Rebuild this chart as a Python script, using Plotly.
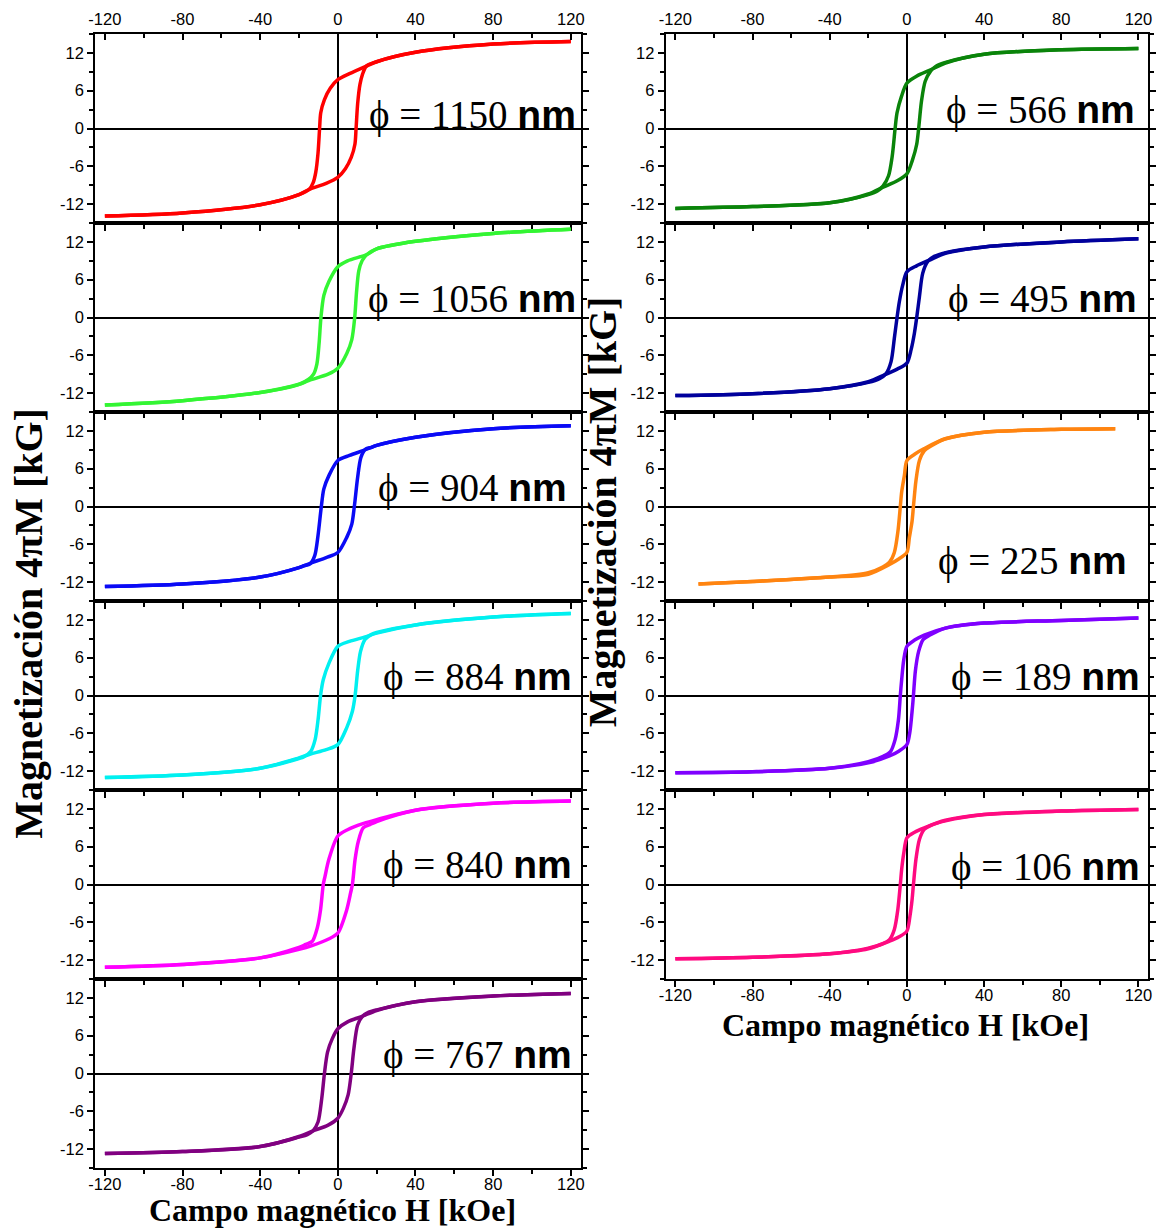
import plotly.graph_objects as go

# ---------------------------------------------------------------------------
# Hysteresis loops 4πM(H) of nanowire arrays of different diameter.
# Each loop: descending branch (+H -> -H) and ascending branch (-H -> +H).
# H in kOe, 4πM in kG.
# ---------------------------------------------------------------------------

diameters = ["1150", "1056", "904", "884", "840", "767", "566", "495", "225", "189", "106"]
colors = ["#ff0000", "#33f533", "#0a0af5", "#00f0f0", "#ff00ff", "#800080",
          "#0a840a", "#00009c", "#ff8410", "#7f00ff", "#ff0a80"]

# 1150 nm
h_1150_down = [120, 80, 40, 20, 14.7, 6, 0, -3.9, -6.9, -8.8, -9.4, -10.2, -11.4, -12.7, -14.7, -20, -40, -80, -120]
m_1150_down = [13.8, 13.4, 12.1, 10.6, 9.9, 8.7, 7.75, 6.4, 4.6, 2.5, 0, -3.9, -7.0, -8.6, -9.65, -10.5, -12.1, -13.4, -13.9]
h_1150_up = [-120, -80, -40, -20, -14.7, -6, 0, 3.9, 6.9, 8.8, 9.4, 10.2, 11.4, 12.7, 14.7, 20, 40, 80, 120]
m_1150_up = [-13.9, -13.4, -12.1, -10.5, -9.65, -8.7, -7.75, -6.4, -4.6, -2.5, 0, 3.9, 7.0, 8.6, 9.9, 10.6, 12.1, 13.4, 13.8]

# 1056 nm
h_1056_down = [120, 80, 40, 20, 15, 5, 0, -4.6, -7.2, -8.7, -9.6, -10.8, -12.5, -15, -20, -40, -80, -120]
m_1056_down = [14.0, 13.35, 12.1, 10.9, 10.0, 9.0, 8.05, 5.7, 3.5, 0, -3.9, -7.4, -9.0, -9.8, -10.6, -11.9, -13.2, -13.9]
h_1056_up = [-120, -80, -40, -20, -15, -5, 0, 4.6, 7.2, 8.7, 9.6, 10.8, 12.5, 15, 20, 40, 80, 120]
m_1056_up = [-13.9, -13.2, -11.9, -10.6, -10.0, -9.0, -8.05, -5.7, -3.5, 0, 3.9, 7.4, 9.0, 10.0, 10.9, 12.1, 13.35, 14.0]

# 904 nm
h_904_down = [120, 80, 40, 20, 13.3, 6, 0, -4.6, -7.2, -8.5, -10.2, -11.9, -14.3, -17.4, -20, -40, -80, -120]
m_904_down = [12.8, 12.35, 11.0, 9.7, 8.9, 8.1, 7.3, 4.9, 2.8, 0, -4.6, -7.8, -9.1, -9.4, -9.7, -11.2, -12.3, -12.7]
h_904_up = [-120, -80, -40, -20, -13.3, -6, 0, 4.6, 7.2, 8.5, 10.2, 11.9, 14.3, 17.4, 20, 40, 80, 120]
m_904_up = [-12.7, -12.3, -11.2, -9.7, -8.9, -8.1, -7.3, -4.9, -2.8, 0, 4.6, 7.8, 9.1, 9.4, 9.7, 11.0, 12.35, 12.8]

# 884 nm
h_884_down = [120, 80, 40, 20, 14.1, 6, 0, -4.6, -7.5, -8.9, -10.2, -11.7, -14, -17.4, -20, -40, -80, -120]
m_884_down = [13.0, 12.45, 11.2, 9.9, 9.3, 8.6, 7.8, 5.1, 2.5, 0, -3.9, -7.0, -8.9, -9.7, -10.0, -11.55, -12.6, -13.0]
h_884_up = [-120, -80, -40, -20, -14.1, -6, 0, 4.6, 7.5, 8.9, 10.2, 11.7, 14, 17.4, 20, 40, 80, 120]
m_884_up = [-13.0, -12.6, -11.55, -9.9, -9.3, -8.6, -7.8, -5.1, -2.5, 0, 3.9, 7.0, 8.9, 9.7, 10.0, 11.2, 12.45, 13.0]

# 840 nm
h_840_down = [120, 80, 40, 20, 13.3, 5, 0, -4.6, -6.6, -7.5, -8.9, -10.6, -13.1, -16.5, -20, -40, -80, -120]
m_840_down = [13.25, 12.9, 11.8, 10.3, 9.7, 8.7, 7.7, 4.0, 1.3, 0, -4.0, -6.9, -9.0, -9.5, -10.0, -11.65, -12.7, -13.15]
h_840_up = [-120, -80, -40, -20, -13.3, -5, 0, 4.6, 6.6, 7.5, 8.9, 10.6, 13.1, 16.5, 20, 40, 80, 120]
m_840_up = [-13.15, -12.7, -11.65, -10.3, -9.7, -8.7, -7.7, -4.0, -1.3, 0, 4.0, 6.9, 9.0, 9.5, 10.0, 11.8, 12.9, 13.25]

# 767 nm
h_767_down = [120, 80, 40, 20, 12.8, 5, 0, -2.9, -5.3, -6.9, -8.3, -10.2, -12.8, -15.7, -20, -40, -80, -120]
m_767_down = [12.7, 12.3, 11.4, 10.0, 9.1, 8.2, 7.1, 5.5, 3.4, 0, -4.0, -7.7, -9.1, -9.7, -10.1, -11.6, -12.4, -12.7]
h_767_up = [-120, -80, -40, -20, -12.8, -5, 0, 2.9, 5.3, 6.9, 8.3, 10.2, 12.8, 15.7, 20, 40, 80, 120]
m_767_up = [-12.7, -12.4, -11.6, -10.0, -9.1, -8.2, -7.1, -5.5, -3.4, 0, 4.0, 7.7, 9.1, 9.7, 10.1, 11.4, 12.3, 12.7]

# 566 nm
h_566_down = [120, 80, 40, 20, 12.3, 5, 0, -2.8, -5.1, -6.1, -7.6, -9.5, -12.3, -15.1, -20, -40, -80, -120]
m_566_down = [12.7, 12.5, 11.8, 10.4, 9.3, 8.3, 7.2, 5.1, 2.5, 0, -4.4, -7.5, -9.1, -9.9, -10.5, -11.8, -12.4, -12.7]
h_566_up = [-120, -80, -40, -20, -12.3, -5, 0, 2.8, 5.1, 6.1, 7.6, 9.5, 12.3, 15.1, 20, 40, 80, 120]
m_566_up = [-12.7, -12.4, -11.8, -10.4, -9.3, -8.3, -7.2, -5.1, -2.5, 0, 4.4, 7.5, 9.1, 9.9, 10.5, 11.8, 12.5, 12.7]

# 495 nm
h_495_down = [120, 80, 40, 20, 11.6, 5, 0, -2.2, -3.9, -5.1, -6.5, -8.2, -10.8, -14.2, -20, -40, -80, -120]
m_495_down = [12.5, 12.0, 11.2, 10.2, 9.1, 8.2, 7.25, 5.1, 2.5, 0, -3.3, -7.0, -8.9, -9.7, -10.3, -11.3, -12.1, -12.4]
h_495_up = [-120, -80, -40, -20, -11.6, -5, 0, 2.2, 3.9, 5.1, 6.5, 8.2, 10.8, 14.2, 20, 40, 80, 120]
m_495_up = [-12.4, -12.1, -11.3, -10.2, -9.1, -8.2, -7.25, -5.1, -2.5, 0, 3.3, 7.0, 8.9, 9.7, 10.3, 11.2, 12.0, 12.5]

# 225 nm
h_225_down = [108, 80, 40, 20, 9.0, 4, 0, -1.3, -2.7, -3.4, -4.7, -6.5, -9.0, -12.5, -20, -40, -80, -108]
m_225_down = [12.35, 12.25, 11.8, 10.75, 9.2, 8.3, 7.3, 4.9, 2.3, 0, -4.1, -7.3, -8.85, -9.6, -10.5, -11.2, -11.9, -12.3]
h_225_up = [-108, -80, -40, -20, -9.0, -4, 0, 1.3, 2.7, 3.4, 4.7, 6.5, 9.0, 12.5, 20, 40, 80, 108]
m_225_up = [-12.3, -11.9, -11.2, -10.75, -9.2, -8.3, -7.3, -4.9, -2.3, 0, 4.1, 7.3, 8.85, 9.6, 10.75, 11.8, 12.25, 12.35]

# 189 nm
h_189_down = [120, 80, 40, 20, 9.0, 4, 0, -1.6, -2.7, -3.4, -4.4, -6.1, -8.5, -12, -20, -40, -80, -120]
m_189_down = [12.3, 11.9, 11.5, 10.7, 9.6, 8.8, 7.8, 5.7, 2.5, 0, -3.9, -7.0, -8.9, -9.6, -10.5, -11.55, -12.1, -12.25]
h_189_up = [-120, -80, -40, -20, -9.0, -4, 0, 1.6, 2.7, 3.4, 4.4, 6.1, 8.5, 12, 20, 40, 80, 120]
m_189_up = [-12.25, -12.1, -11.55, -10.7, -9.6, -8.8, -7.8, -5.7, -2.5, 0, 3.9, 7.0, 8.9, 9.6, 10.7, 11.5, 11.9, 12.3]

# 106 nm
h_106_down = [120, 80, 40, 20, 9.0, 4, 0, -1.6, -2.7, -3.4, -4.7, -6.5, -9, -12.5, -20, -40, -80, -120]
m_106_down = [11.9, 11.65, 11.1, 10.2, 9.0, 8.3, 7.4, 5.0, 2.4, 0, -4.0, -7.15, -8.75, -9.4, -10.1, -11.0, -11.55, -11.8]
h_106_up = [-120, -80, -40, -20, -9.0, -4, 0, 1.6, 2.7, 3.4, 4.7, 6.5, 9, 12.5, 20, 40, 80, 120]
m_106_up = [-11.8, -11.55, -11.0, -10.2, -9.0, -8.3, -7.4, -5.0, -2.4, 0, 4.0, 7.15, 8.75, 9.4, 10.1, 11.1, 11.65, 11.9]

loops = {
    "1150": (h_1150_down, m_1150_down, h_1150_up, m_1150_up),
    "1056": (h_1056_down, m_1056_down, h_1056_up, m_1056_up),
    "904": (h_904_down, m_904_down, h_904_up, m_904_up),
    "884": (h_884_down, m_884_down, h_884_up, m_884_up),
    "840": (h_840_down, m_840_down, h_840_up, m_840_up),
    "767": (h_767_down, m_767_down, h_767_up, m_767_up),
    "566": (h_566_down, m_566_down, h_566_up, m_566_up),
    "495": (h_495_down, m_495_down, h_495_up, m_495_up),
    "225": (h_225_down, m_225_down, h_225_up, m_225_up),
    "189": (h_189_down, m_189_down, h_189_up, m_189_up),
    "106": (h_106_down, m_106_down, h_106_up, m_106_up),
}

x_tickvals = [-120, -80, -40, 0, 40, 80, 120]
x_ticktext = ["-120", "-80", "-40", "0", "40", "80", "120"]
y_tickvals = [-12, -6, 0, 6, 12]
y_ticktext = ["-12", "-6", "0", "6", "12"]

# ---------------------------------------------------------------------------
# Page geometry (pixels)
# ---------------------------------------------------------------------------
W, H = 1159, 1230
col_x = [(89, 579), (665, 1152)]          # plot-area left/right edges per column
col_rows = [6, 5]
panel_top0, panel_h = 34, 189

# (column, row) for each diameter, plus label anchor (right edge px, centre px)
placement = {
    "1150": (0, 0, 576, 115), "1056": (0, 1, 576, 299), "904": (0, 2, 567, 488),
    "884": (0, 3, 572, 677), "840": (0, 4, 572, 865), "767": (0, 5, 572, 1055),
    "566": (1, 0, 1141, 110), "495": (1, 1, 1143, 299), "225": (1, 2, 1133, 561),
    "189": (1, 3, 1146, 677), "106": (1, 4, 1146, 867),
}

def px(x):
    return x / W

def py(y):
    return 1 - y / H

fig = go.Figure()
layout = {}
annotations = []
tick_font = dict(family="Arial, Liberation Sans", size=16.5, color="black")

axis_common = dict(showgrid=False, showline=True, linecolor="black", linewidth=2,
                   zeroline=True, zerolinecolor="black", zerolinewidth=2)

extra = 12
for idx, d in enumerate(diameters):
    c, r, lx, ly = placement[d]
    n = idx + 1
    xa = "xaxis" if n == 1 else f"xaxis{n}"
    ya = "yaxis" if n == 1 else f"yaxis{n}"
    xr = "x" if n == 1 else f"x{n}"
    yr = "y" if n == 1 else f"y{n}"
    top = panel_top0 + r * panel_h
    bot = top + panel_h
    x0, x1 = col_x[c]
    is_bottom = (r == col_rows[c] - 1)

    layout[xa] = dict(axis_common, domain=[px(x0), px(x1)], anchor=yr, range=[-125, 125],
                      tickmode="array", tickvals=x_tickvals, ticktext=x_ticktext,
                      ticks="outside", ticklen=6, tickwidth=2, tickcolor="black",
                      minor=dict(tickmode="linear", tick0=-120, dtick=20, ticks="outside",
                                 ticklen=4, tickwidth=1.5, tickcolor="black"),
                      mirror=True, showticklabels=is_bottom, tickfont=tick_font, side="bottom",
                      ticklabelstandoff=-6)
    layout[ya] = dict(axis_common, domain=[py(bot), py(top)], anchor=xr, range=[-15, 15],
                      tickmode="array", tickvals=y_tickvals, ticktext=y_ticktext,
                      ticks="outside", ticklen=6, tickwidth=2, tickcolor="black",
                      minor=dict(tickmode="linear", tick0=0, dtick=3, ticks="outside",
                                 ticklen=4, tickwidth=1.5, tickcolor="black"),
                      mirror="ticks", showticklabels=True, tickfont=tick_font)

    if r == 0:
        # top scale with labels above the first panel of each column
        ta = f"xaxis{len(diameters) + extra + c}"
        layout[ta] = dict(domain=[px(x0), px(x1)], anchor=yr, overlaying=xr, side="top",
                          range=[-125, 125], tickmode="array", tickvals=x_tickvals,
                          ticktext=x_ticktext,
                          ticks="inside", ticklen=6, tickwidth=2, tickcolor="black",
                          minor=dict(tickmode="linear", tick0=-120, dtick=20, ticks="inside",
                                     ticklen=4, tickwidth=1.5, tickcolor="black"),
                          showline=False, showgrid=False, zeroline=False,
                          ticklabelstandoff=5,
                          showticklabels=True, tickfont=tick_font)

    hd, md, hu, mu = loops[d]
    for hh, mm in ((hd, md), (hu, mu)):
        fig.add_trace(go.Scatter(x=hh, y=mm, mode="lines", xaxis=xr, yaxis=yr,
                                 line=dict(color=colors[idx], width=3.5, shape="spline", smoothing=0.8),
                                 showlegend=False, hoverinfo="skip"))

    annotations.append(dict(
        xref="paper", yref="paper", x=px(lx), y=py(ly), xanchor="right", yanchor="middle",
        showarrow=False,
        text=(f"<span style='font-family:Liberation Serif, Times New Roman'>ϕ = {d} </span>"
              f"<span style='font-family:Liberation Sans, Arial'><b>nm</b></span>"),
        font=dict(family="Liberation Serif, Times New Roman", size=39, color="black"),
    ))

# axis titles
for cx, cy in ((21, 623), (601, 512)):
    annotations.append(dict(xref="paper", yref="paper", x=px(cx), y=py(cy), xanchor="center",
                            yanchor="middle", showarrow=False, textangle=-90,
                            text="<b>Magnetización 4πM [kG]</b>",
                            font=dict(family="Liberation Serif, Times New Roman", size=40, color="black")))
for cx, cy in ((329, 1210), (907, 1025)):
    annotations.append(dict(xref="paper", yref="paper", x=px(cx), y=py(cy), xanchor="center",
                            yanchor="middle", showarrow=False,
                            text="<b>Campo magnético H [kOe]</b>",
                            font=dict(family="Liberation Serif, Times New Roman", size=32, color="black")))

# placeholder trace so each top scale is rendered
for c in (0, 1):
    ta_ref = f"x{len(diameters) + extra + c}"
    yr = "y" if c == 0 else "y7"
    fig.add_trace(go.Scatter(x=[None], y=[None], xaxis=ta_ref, yaxis=yr, showlegend=False,
                             hoverinfo="skip"))

fig.update_layout(width=W, height=H, margin=dict(l=0, r=0, t=0, b=0),
                  plot_bgcolor="white", paper_bgcolor="white",
                  annotations=annotations, **layout)

fig.write_html("out.html")
